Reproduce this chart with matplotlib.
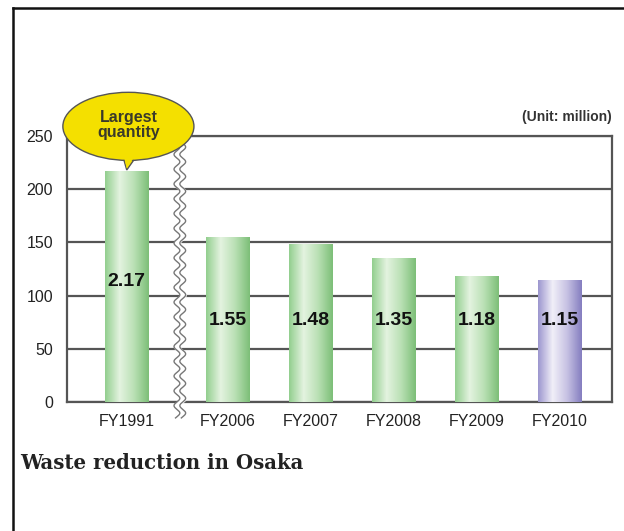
import numpy as np
import matplotlib
matplotlib.use("Agg")
import matplotlib.pyplot as plt
from matplotlib.colors import LinearSegmentedColormap
from matplotlib.patches import Ellipse, Polygon
from matplotlib.lines import Line2D
import matplotlib.transforms as mtransforms

# data
years = ["FY1991", "FY2006", "FY2007", "FY2008", "FY2009", "FY2010"]
values = [217, 155, 148, 135, 118, 115]
labels = ["2.17", "1.55", "1.48", "1.35", "1.18", "1.15"]
label_y = [113, 77, 77, 77, 77, 77]

# FY1991 stands apart from the rest, behind the axis break
xpos = np.array([0, 1.22, 2.22, 3.22, 4.22, 5.22])
brk = 0.64

plt.rcParams['font.family'] = ['Liberation Sans', 'DejaVu Sans']

fig = plt.figure(figsize=(6.24, 5.31), dpi=100)
ax = fig.add_axes([0.1074, 0.243, 0.8734, 0.501])

green = LinearSegmentedColormap.from_list("g", ["#93cf8f", "#e4f3e0", "#b9e0b4", "#7dbf78"])
purple = LinearSegmentedColormap.from_list("p", ["#9d97cf", "#f1eff8", "#c6c1e3", "#857ec0"])

bars = ax.bar(xpos, values, width=0.53, color="none", edgecolor="none", zorder=3)
grad = np.linspace(0, 1, 100).reshape(1, -1)
for i, b in enumerate(bars):
    cm = purple if years[i] == "FY2010" else green
    im = ax.imshow(grad, cmap=cm, aspect="auto", zorder=3,
                   extent=[b.get_x(), b.get_x() + b.get_width(), 0, b.get_height()])
    im.set_clip_path(b)
    ax.text(xpos[i], label_y[i], labels[i], ha="center", va="center",
            fontsize=14, fontweight="bold", color="#111111", zorder=5)

ax.set_xlim(-0.72, 5.85)
ax.set_ylim(0, 250)
ax.set_yticks([0, 50, 100, 150, 200, 250])
ax.set_xticks(xpos)
ax.set_xticklabels(years)
ax.tick_params(length=0, labelsize=11.5, colors="#222222", pad=9)
ax.tick_params(axis="y", pad=10)
ax.grid(axis="y", color="#555555", lw=1.6, zorder=1)
ax.set_axisbelow(True)
for s in ax.spines.values():
    s.set_color("#555555")
    s.set_linewidth(1.6)

# wavy axis break
trans = mtransforms.blended_transform_factory(ax.transData, ax.transAxes)
t = np.linspace(1.01, -0.06, 400)
w = 0.035 * np.sin(t * 2 * np.pi * 18)
ax.fill_betweenx(t, brk - 0.035 + w, brk + 0.035 + w, transform=trans,
                 color="white", zorder=4, clip_on=False)
ax.plot(brk - 0.035 + w, t, transform=trans, color="#777777", lw=1, zorder=4, clip_on=False)
ax.plot(brk + 0.035 + w, t, transform=trans, color="#777777", lw=1, zorder=4, clip_on=False)

# speech bubble
tail = Polygon([[-0.08, 240], [0.2, 240], [0.0, 218]], closed=True,
               facecolor="#f4e000", edgecolor="#555555", lw=1, zorder=6, clip_on=False)
ax.add_patch(tail)
bub = Ellipse((0.02, 259), 1.58, 64, facecolor="#f4e000", edgecolor="#555555",
              lw=1, zorder=6, clip_on=False)
ax.add_patch(bub)
ax.add_patch(Polygon([[-0.07, 242], [0.19, 242], [0.0, 219.5]], closed=True,
                     facecolor="#f4e000", edgecolor="none", zorder=7, clip_on=False))
ax.text(0.02, 260, "Largest\nquantity", ha="center", va="center", fontsize=11.5,
        fontweight="bold", color="#3a3a2a", linespacing=1.0, zorder=8)

ax.text(1.0, 1.07, "(Unit: million)", transform=ax.transAxes, ha="right", va="center",
        fontsize=10, fontweight="bold", color="#333333")

# card border and caption
fig.add_artist(Line2D([13 / 624, 13 / 624], [0, 1 - 8 / 531], color="#111111", lw=1.8))
fig.add_artist(Line2D([13 / 624, 1], [1 - 8 / 531, 1 - 8 / 531], color="#111111", lw=1.8))
fig.text(20 / 624, 1 - 463 / 531, "Waste reduction in Osaka", family="DejaVu Serif",
         fontweight="bold", fontsize=14.2, color="#222222", va="center")

fig.savefig("out.png", dpi=100)
